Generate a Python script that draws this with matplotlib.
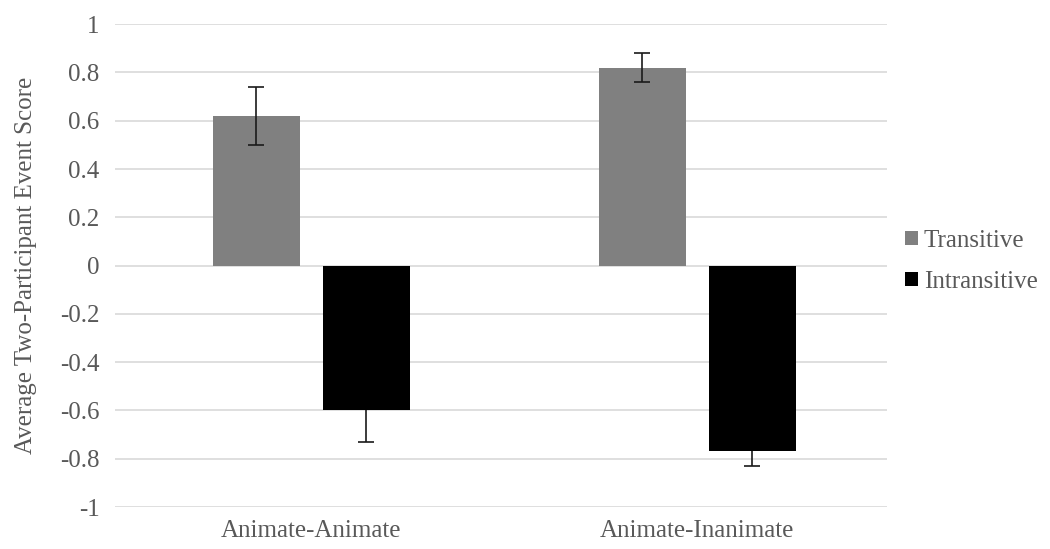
import numpy as np
import matplotlib.pyplot as plt

categories = ['Animate-Animate', 'Animate-Inanimate']
series = ['Transitive', 'Intransitive']
transitive = [0.62, 0.82]
transitive_err = [0.12, 0.06]
intransitive = [-0.60, -0.77]
intransitive_err = [0.13, 0.06]
yticks = [-1, -0.8, -0.6, -0.4, -0.2, 0, 0.2, 0.4, 0.6, 0.8, 1]

plt.rcParams['font.family'] = ['Liberation Serif', 'DejaVu Serif']
txt = '#595959'
fs = 18

fig = plt.figure(figsize=(10.5, 5.49), dpi=100)
ax = fig.add_axes([0.1095, 0.0765, 0.7355, 0.8795])

x = np.arange(len(categories))
w = 0.225
off = 0.1425

ax.bar(x - off, transitive, w, color='#808080', label=series[0], zorder=2)
ax.bar(x + off, intransitive, w, color='#000000', label=series[1], zorder=2)
# transitive error bars sit on top, intransitive ones hide behind the black bar
ax.errorbar(x - off, transitive, yerr=transitive_err, fmt='none', ecolor='#1a1a1a',
            elinewidth=1.2, capsize=6, capthick=1.2, zorder=3)
ax.errorbar(x + off, intransitive, yerr=intransitive_err, fmt='none', ecolor='#1a1a1a',
            elinewidth=1.2, capsize=6, capthick=1.2, zorder=1.5)

ax.set_xlim(-0.508, 1.492)
ax.set_ylim(-1, 1)
ax.set_yticks(yticks)
ax.set_yticklabels([('%g' % v) for v in yticks])
ax.set_xticks(x)
ax.set_xticklabels(categories)
ax.grid(axis='y', color='#d9d9d9', linewidth=1.2, zorder=0)
ax.set_axisbelow(True)
for s in ax.spines.values():
    s.set_visible(False)
ax.tick_params(axis='both', length=0, labelsize=fs, labelcolor=txt)
ax.tick_params(axis='y', pad=11)
ax.tick_params(axis='x', pad=9)

ax.set_ylabel('Average Two-Participant Event Score', fontsize=fs, color=txt)
ax.yaxis.set_label_coords(-0.101, 0.5)

leg = fig.legend(loc='center left', bbox_to_anchor=(0.8405, 0.524), frameon=False,
                 fontsize=fs, handlelength=0.5, handleheight=0.5, handletextpad=0.25,
                 labelspacing=0.75)
for t in leg.get_texts():
    t.set_color(txt)

fig.savefig('out.png', dpi=100)
